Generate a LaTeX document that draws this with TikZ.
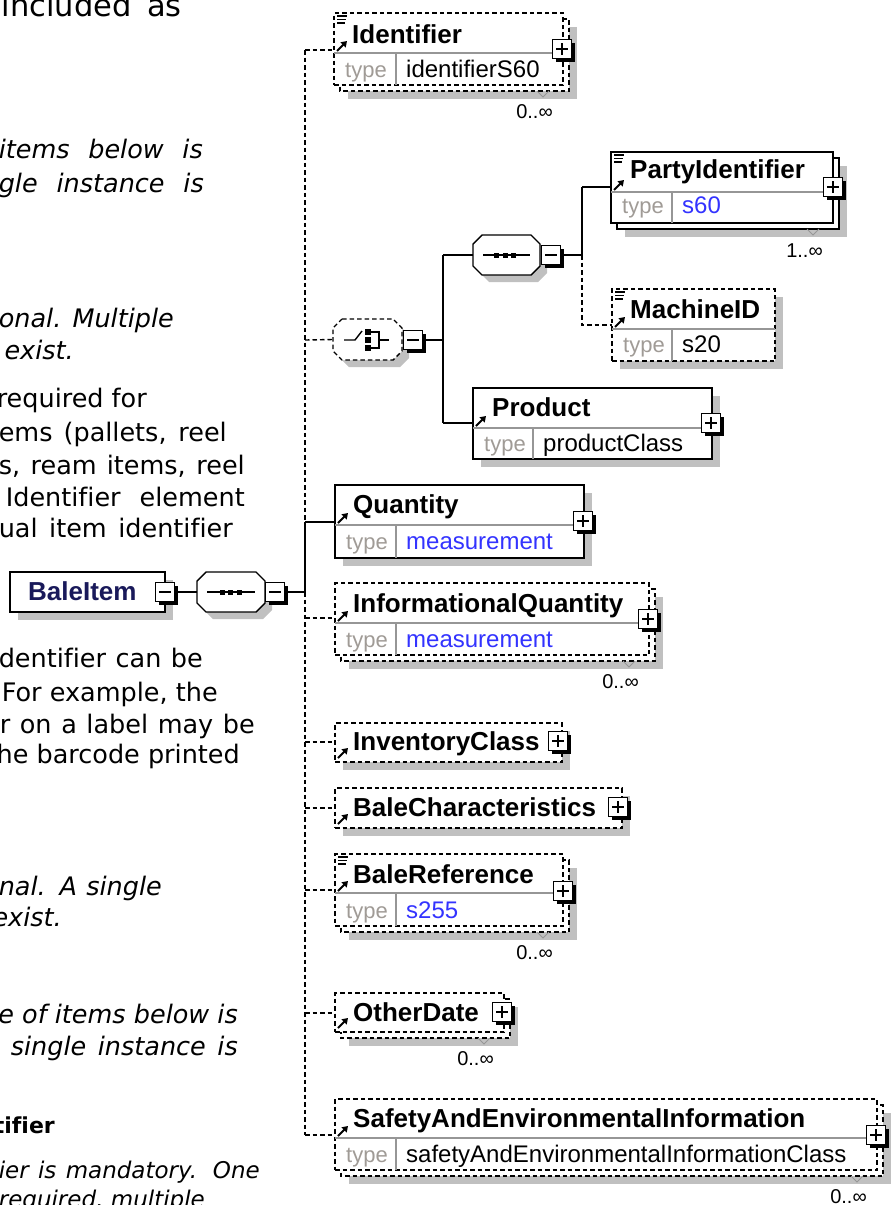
\documentclass[tikz,border=0pt]{standalone}
\usepackage{fontspec}
\usetikzlibrary{arrows.meta}
\newfontfamily\vfont[Ligatures=NoCommon]{DejaVu Sans}
\newfontfamily\dfont{Liberation Sans}
\definecolor{typeblue}{RGB}{51,51,255}
\definecolor{typegray}{RGB}{160,155,150}
\definecolor{divgray}{RGB}{150,150,150}
\definecolor{shd}{RGB}{192,192,192}
\definecolor{navy}{RGB}{25,25,90}
\tikzset{
  ln/.style={line width=1.4},
  dsh/.style={line width=1.4, dash pattern=on 4.5pt off 3pt},
  bs/.style={draw, line width=1.4},
  bd/.style={draw, line width=1.4, dash pattern=on 4.5pt off 3pt},
  divl/.style={draw=divgray, line width=1.2},
  notch/.style={draw=divgray, line width=0.9},
  nm/.style={font={\dfont\bfseries\fontsize{26}{30}\selectfont}, inner sep=0, anchor=base west},
  typel/.style={font={\dfont\fontsize{22}{26}\selectfont}, text=typegray, inner sep=0, anchor=base west},
  typev/.style={font={\dfont\fontsize{24}{28}\selectfont}, inner sep=0, anchor=base west},
  card/.style={font={\dfont\fontsize{20}{24}\selectfont}, inner sep=0, anchor=base east},
  ltbig/.style={font={\vfont\fontsize{30.5}{36}\selectfont}, inner sep=0, anchor=base east},
  ltr/.style={font={\vfont\fontsize{25.5}{31}\selectfont}, inner sep=0, anchor=base east},
  lti/.style={font={\vfont\itshape\fontsize{25.5}{31}\selectfont}, inner sep=0, anchor=base east},
  ltb/.style={font={\vfont\bfseries\fontsize{22}{26}\selectfont}, inner sep=0, anchor=base east},
  lts/.style={font={\vfont\itshape\fontsize{23}{27}\selectfont}, inner sep=0, anchor=base east},
}
% justified line: stretch the spaces to the given width, never shrink
\newcommand{\jl}[2]{\setbox0=\hbox{#2}\ifdim\wd0<#1pt\makebox[#1pt][s]{#2}\else\box0\fi}
% single element box: name L T R B style
\newcommand{\xsdSingle}[6]{%
  \fill[shd] (#2+8,#3+8) rectangle (#4+8,#5+8);
  \node[#6,fill=white,inner sep=0,outer sep=0,minimum width={#4-#2},minimum height={#5-#3},anchor=north west] (#1) at (#2,#3) {};
}
% multiple-occurrence element box
\newcommand{\xsdMulti}[6]{%
  \fill[shd] (#2+14,#3+14) rectangle (#4+14,#5+14);
  \draw[#6,fill=white] (#2+6,#3+6) rectangle (#4+6,#5+6);
  \node[#6,fill=white,inner sep=0,outer sep=0,minimum width={#4-#2},minimum height={#5-#3},anchor=north west] (#1) at (#2,#3) {};
  \draw[notch] (#4-26,#5+6) -- (#4-20,#5+12) -- (#4-14,#5+6);
}
% plus / minus box: name cx cy plus?
\newcommand{\xsdPM}[4]{%
  \fill (#2-6.5,#3-6.5) rectangle (#2+12.5,#3+12.5);
  \node[draw,fill=white,line width=1.2,minimum size=19,inner sep=0,outer sep=0] (#1) at (#2,#3) {};
  \draw[line width=1.3] (#2-6,#3) -- (#2+6,#3);
  \ifnum#4=1 \draw[line width=1.3] (#2,#3-6) -- (#2,#3+6);\fi
}
% octagon: name L T R B style
\newcommand{\xsdOct}[6]{%
  \fill[shd] (#2+16,#3+7) -- (#4-2,#3+7) -- (#4+7,#3+16) -- (#4+7,#5-2) -- (#4-2,#5+7) -- (#2+16,#5+7) -- (#2+7,#5-2) -- (#2+7,#3+16) -- cycle;
  \draw[#6,fill=white] (#2+9,#3) -- (#4-9,#3) -- (#4,#3+9) -- (#4,#5-9) -- (#4-9,#5) -- (#2+9,#5) -- (#2,#5-9) -- (#2,#3+9) -- cycle;
  \node[inner sep=0,outer sep=0,minimum width={#4-#2},minimum height={#5-#3}] (#1) at ({(#2+#4)/2},{(#3+#5)/2}) {};
}
% type row: name L R D C B baseline value
\newcommand{\xsdType}[8]{%
  \draw[divl] (#2,#4) -- (#3,#4);
  \draw[divl] (#5,#4) -- (#5,#6);
  \node[typel] (#1-t) at (#2+11,#7) {type};
  \node[typev] (#1-v) at (#5+10,#7) {#8};
}
\newcommand{\xsdDoc}[2]{%
  \draw[line width=1.1] (#1+3,#2+3) -- (#1+13,#2+3) (#1+3,#2+6.5) -- (#1+12,#2+6.5) (#1+3,#2+10) -- (#1+11,#2+10);
}
\newcommand{\xsdRef}[2]{%
  \draw[line width=2,-{Triangle[length=5.5pt,width=7pt]}] (#1+3,#2-2) -- (#1+13,#2-12);
}
\begin{document}
\begin{tikzpicture}[x=1pt,y=-1pt]
\useasboundingbox (0,0) rectangle (894,1205);
\clip (0,0) rectangle (894,1205);
\fill[white] (0,0) rectangle (894,1205);

% ---------- left text (justified lines, cut at the left edge) ----------
\node[ltbig] (lt1) at (182,16) {\jl{180}{included as}};
\node[lti] (lt2) at (203,158) {\jl{204}{items below is}};
\node[lti] (lt3) at (204,192) {\jl{205}{gle instance is}};
\node[lti] (lt4) at (174,327) {\jl{175}{onal. Multiple}};
\node[lti] (lt5) at (74,359) {exist.};
\node[ltr] (lt6) at (147,407) {\jl{148}{required for}};
\node[ltr] (lt7) at (227,441) {\jl{228}{ems (pallets, reel}};
\node[ltr] (lt8) at (245,474) {\jl{246}{s, ream items, reel}};
\node[ltr] (lt9) at (245,506) {\jl{239}{Identifier element}};
\node[ltr] (lt10) at (233,537) {\jl{234}{ual item identifier}};
\node[ltr] (lt11) at (203,667) {\jl{204}{dentifier can be}};
\node[ltr] (lt12) at (218,701) {\jl{216}{For example, the}};
\node[ltr] (lt13) at (255,733) {\jl{255}{r on a label may be}};
\node[ltr] (lt14) at (240,763) {\jl{243}{he barcode printed}};
\node[lti] (lt15) at (162,895) {\jl{163}{nal. A single}};
\node[lti] (lt16) at (62,926) {exist.};
\node[lti] (lt17) at (238,1023) {\jl{239}{e of items below is}};
\node[lti] (lt18) at (238,1055) {\jl{227}{single instance is}};
\node[ltb] (lt19) at (55,1133) {tifier};
\node[lts] (lt20) at (260,1178) {\jl{261}{ier is mandatory. One}};
\node[lts] (lt21) at (205,1207) {\jl{206}{required, multiple}};

% ---------- root and main sequence ----------
\xsdSingle{bale}{10}{572}{165}{612}{bs}
\node[nm,text=navy] (bale-n) at (28,600) {BaleItem};
\xsdPM{balePM}{165}{592}{0}
\xsdOct{seq}{197}{572}{265}{612}{bs}
\draw[ln] (207,592) -- (255,592);
\fill (219.5,589.5) rectangle (224.5,594.5);
\fill (228,589.5) rectangle (233,594.5);
\fill (236.5,589.5) rectangle (241.5,594.5);
\xsdPM{seqPM}{275}{592}{0}
\draw[ln] (balePM.east) -- (seq.west);

% trunk coordinates
\coordinate (tI) at (305,50);
\coordinate (tC) at (305,340);
\coordinate (tQ) at (305,522);
\coordinate (tS) at (305,592);
\coordinate (tIQ) at (305,618);
\coordinate (tIC) at (305,742);
\coordinate (tBC) at (305,808);
\coordinate (tBR) at (305,890);
\coordinate (tOD) at (305,1013);
\coordinate (tSE) at (305,1135);
\draw[ln] (seqPM.east) -- (tS);
\draw[dsh] (tI) -- (tQ);
\draw[ln] (tQ) -- (tS);
\draw[dsh] (tS) -- (tSE);

% ---------- Identifier ----------
\xsdMulti{ident}{334}{13}{563}{85}{bd}
\xsdDoc{334}{13}
\node[nm] (ident-n) at (352,43) {Identifier};
\xsdRef{334}{53}
\xsdType{identT}{334}{563}{53}{396}{85}{77}{identifierS60}
\xsdPM{identPM}{562}{49}{1}
\node[card] (ident-c) at (553,118) {0..∞};
\draw[dsh] (tI) -- (ident.west |- tI);

% ---------- choice ----------
\xsdOct{cho}{333}{319}{402}{360}{bd}
\draw[ln] (344,340) -- (355,340) -- (362,331);
\fill (365,329) rectangle (371,335);
\fill (365,337) rectangle (371,343);
\fill (365,345) rectangle (371,351);
\draw[ln] (371,332) -- (379,332) -- (379,348) -- (371,348);
\draw[ln] (379,340) -- (389,340);
\xsdPM{choPM}{413}{340}{0}
\draw[dsh] (tC) -- (cho.west);
\coordinate (cJ) at (443,340);
\coordinate (jTop) at (443,255);
\coordinate (jBot) at (443,423);
\draw[ln] (choPM.east) -- (cJ);
\draw[ln] (jTop) -- (jBot);

% ---------- inner sequence ----------
\xsdOct{seqB}{473}{235}{540}{275}{bs}
\draw[ln] (483,255) -- (530,255);
\fill (494,252.5) rectangle (499,257.5);
\fill (502.5,252.5) rectangle (507.5,257.5);
\fill (511,252.5) rectangle (516,257.5);
\xsdPM{seqBPM}{551}{255}{0}
\draw[ln] (jTop) -- (seqB.west);
\coordinate (kTop) at (582,187);
\coordinate (kMid) at (582,255);
\coordinate (kBot) at (582,325);
\draw[ln] (seqBPM.east) -- (kMid);
\draw[ln] (kTop) -- (kMid);

% ---------- PartyIdentifier ----------
\xsdMulti{party}{611}{152}{833}{223}{bs}
\xsdDoc{611}{152}
\node[nm] (party-n) at (630,178) {PartyIdentifier};
\xsdRef{611}{192}
\xsdType{partyT}{611}{833}{192}{672}{223}{213}{\textcolor{typeblue}{s60}}
\xsdPM{partyPM}{833}{187}{1}
\node[card] (party-c) at (823,257) {1..∞};
\draw[ln] (kTop) -- (party.west |- kTop);

% ---------- MachineID ----------
\xsdSingle{mach}{612}{289}{775}{361}{bd}
\xsdDoc{612}{289}
\node[nm] (mach-n) at (630,318) {MachineID};
\xsdRef{612}{329}
\xsdType{machT}{612}{775}{329}{672}{361}{352}{s20}
\draw[dsh] (kMid) -- (kBot) -- (mach.west |- kBot);

% ---------- Product ----------
\xsdSingle{prod}{473}{388}{712}{459}{bs}
\node[nm] (prod-n) at (492,416) {Product};
\xsdRef{473}{428}
\xsdType{prodT}{473}{712}{428}{533}{459}{451}{productClass}
\xsdPM{prodPM}{711}{423}{1}
\draw[ln] (jBot) -- (prod.west |- jBot);

% ---------- Quantity ----------
\xsdSingle{qty}{335}{485}{584}{558}{bs}
\node[nm] (qty-n) at (353,513) {Quantity};
\xsdRef{335}{525}
\xsdType{qtyT}{335}{584}{525}{396}{558}{549}{\textcolor{typeblue}{measurement}}
\xsdPM{qtyPM}{583}{521}{1}
\draw[ln] (tQ) -- (qty.west |- tQ);

% ---------- InformationalQuantity ----------
\xsdMulti{iq}{335}{583}{649}{655}{bd}
\node[nm] (iq-n) at (353,612) {InformationalQuantity};
\xsdRef{335}{623}
\xsdType{iqT}{335}{649}{623}{396}{655}{647}{\textcolor{typeblue}{measurement}}
\xsdPM{iqPM}{648}{619}{1}
\node[card] (iq-c) at (639,688) {0..∞};
\draw[dsh] (tIQ) -- (iq.west |- tIQ);

% ---------- InventoryClass ----------
\xsdSingle{inv}{335}{723}{562}{762}{bd}
\node[nm] (inv-n) at (353,750) {InventoryClass};
\xsdRef{335}{760}
\xsdPM{invPM}{558}{741}{1}
\draw[dsh] (tIC) -- (inv.west |- tIC);

% ---------- BaleCharacteristics ----------
\xsdSingle{bch}{335}{788}{622}{828}{bd}
\node[nm] (bch-n) at (353,816) {BaleCharacteristics};
\xsdRef{335}{826}
\xsdPM{bchPM}{618}{807}{1}
\draw[dsh] (tBC) -- (bch.west |- tBC);

% ---------- BaleReference ----------
\xsdMulti{bref}{335}{854}{563}{926}{bd}
\xsdDoc{335}{854}
\node[nm] (bref-n) at (353,883) {BaleReference};
\xsdRef{335}{893}
\xsdType{brefT}{335}{563}{893}{396}{926}{918}{\textcolor{typeblue}{s255}}
\xsdPM{brefPM}{563}{891}{1}
\node[card] (bref-c) at (553,959) {0..∞};
\draw[dsh] (tBR) -- (bref.west |- tBR);

% ---------- OtherDate ----------
\xsdMulti{odate}{335}{993}{504}{1032}{bd}
\node[nm] (odate-n) at (353,1021) {OtherDate};
\xsdRef{335}{1030}
\xsdPM{odatePM}{502}{1012}{1}
\node[card] (odate-c) at (494,1065) {0..∞};
\draw[dsh] (tOD) -- (odate.west |- tOD);

% ---------- SafetyAndEnvironmentalInformation ----------
\xsdMulti{safe}{335}{1099}{877}{1170}{bd}
\node[nm] (safe-n) at (353,1127) {SafetyAndEnvironmentalInformation};
\xsdRef{335}{1138}
\xsdType{safeT}{335}{877}{1138}{396}{1170}{1162}{safetyAndEnvironmentalInformationClass}
\xsdPM{safePM}{876}{1135}{1}
\node[card] (safe-c) at (867,1203) {0..∞};
\draw[dsh] (tSE) -- (safe.west |- tSE);
\end{tikzpicture}
\end{document}
